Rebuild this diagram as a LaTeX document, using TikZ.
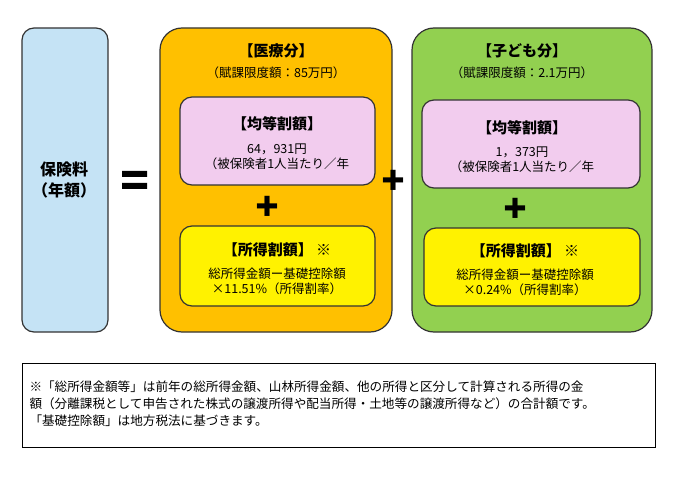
\documentclass[tikz,border=0pt]{standalone}
\usepackage{fontspec}
\setmainfont{Noto Sans CJK JP}
\usetikzlibrary{positioning}
\definecolor{medorange}{HTML}{FFC000}
\definecolor{kidgreen}{HTML}{92D050}
\definecolor{feeblue}{HTML}{C5E3F5}
\definecolor{flatpink}{HTML}{F2CCEE}

\tikzset{
  panel/.style={draw=black!80,line width=1.2pt,rounded corners=22pt},
  inner/.style={draw=black!80,line width=1.2pt,rounded corners=12pt},
  txt/.style={align=center,font=\fontsize{12.5}{15}\selectfont},
  ttl/.style={align=center,font=\fontsize{15}{17}\selectfont\bfseries},
  plus/.style={font=\fontsize{24}{24}\selectfont\bfseries}
}

\begin{document}
\begin{tikzpicture}[x=1pt,y=-1pt]
  \useasboundingbox (0,0) rectangle (696,481);
  % left column
  \draw[panel,rounded corners=12pt,fill=feeblue] (22,28) rectangle (108,332);
  \node[font=\fontsize{16}{21}\selectfont\bfseries,align=center] (fee) at (64,180) {保険料\\（年額）};
  \fill (122,171) rectangle (147,177) (122,183) rectangle (147,189);

  % medical part
  \draw[panel,fill=medorange] (160,28) rectangle (392,332);
  \node[ttl] (medtitle) at (276,51) {【医療分】};
  \node[txt] (medlimit) at (276,73) {（賦課限度額：85万円）};
  \draw[inner,fill=flatpink] (180,97) rectangle (375,185);
  \node[ttl] (medflat) at (277,124) {【均等割額】};
  \node[txt] (medflatval) at (277,157) {64，931円\\（被保険者1人当たり／年};
  \node[plus] (medplus) at (267,206) {✚};
  \draw[inner,fill=yellow] (180,226) rectangle (375,306);
  \node[ttl] (medinc) at (277,250) {【所得割額】 ※};
  \node[txt] (medincval) at (277,281) {総所得金額ー基礎控除額\\×11.51\%（所得割率）};

  \node[plus] (midplus) at (393,180) {✚};

  % child part
  \draw[panel,fill=kidgreen] (412,28) rectangle (652,332);
  \node[ttl] (kidtitle) at (522,51) {【子ども分】};
  \node[txt] (kidlimit) at (522,73) {（賦課限度額：2.1万円）};
  \draw[inner,fill=flatpink] (422,100) rectangle (640,188);
  \node[ttl] (kidflat) at (522,128) {【均等割額】};
  \node[txt] (kidflatval) at (522,160) {1，373円\\（被保険者1人当たり／年};
  \node[plus] (kidplus) at (515,208) {✚};
  \draw[inner,fill=yellow] (424,228) rectangle (640,306);
  \node[ttl] (kidinc) at (525,251) {【所得割額】 ※};
  \node[txt] (kidincval) at (525,282) {総所得金額ー基礎控除額\\×0.24\%（所得割率）};

  % note
  \draw[line width=0.8pt,fill=white] (22,363) rectangle (655,447);
  \node[align=left,anchor=west,font=\fontsize{12.6}{17}\selectfont] (note) at (26,404)
    {※「総所得金額等」は前年の総所得金額、山林所得金額、他の所得と区分して計算される所得の金\\額（分離課税として申告された株式の譲渡所得や配当所得・土地等の譲渡所得など）の合計額です。\\「基礎控除額」は地方税法に基づきます。};
\end{tikzpicture}
\end{document}
